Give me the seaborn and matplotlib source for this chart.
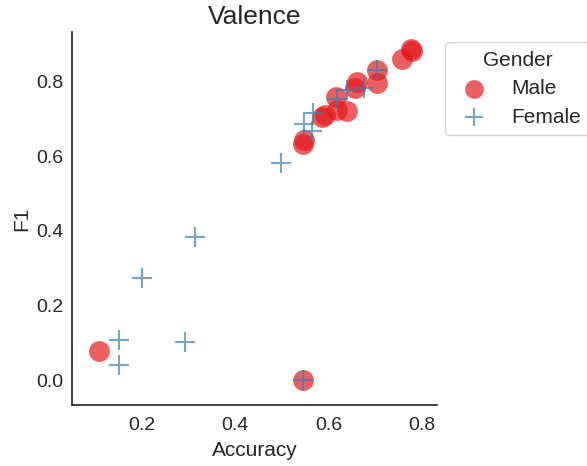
import matplotlib
matplotlib.use("Agg")
import matplotlib.pyplot as plt
import seaborn as sns
import pandas as pd

# Data
male_acc = [0.108, 0.545, 0.545, 0.547, 0.592, 0.586, 0.618, 0.639, 0.616,
            0.657, 0.661, 0.704, 0.704, 0.757, 0.779, 0.777]
male_f1 = [0.078, 0.000, 0.633, 0.645, 0.711, 0.706, 0.725, 0.722, 0.760,
           0.784, 0.800, 0.797, 0.832, 0.862, 0.883, 0.889]
female_acc = [0.151, 0.151, 0.200, 0.314, 0.292, 0.498, 0.547, 0.564, 0.567,
              0.618, 0.676, 0.639, 0.704, 0.545]
female_f1 = [0.107, 0.040, 0.274, 0.384, 0.102, 0.583, 0.687, 0.668, 0.717,
             0.754, 0.784, 0.778, 0.832, 0.000]
x_ticks = [0.2, 0.4, 0.6, 0.8]
y_ticks = [0.0, 0.2, 0.4, 0.6, 0.8]

sns.set_theme(style="white")
plt.rcParams["font.family"] = ["Liberation Sans", "DejaVu Sans"]

male = pd.DataFrame({"Accuracy": male_acc, "F1": male_f1})
female = pd.DataFrame({"Accuracy": female_acc, "F1": female_f1})

fig = plt.figure(figsize=(5.87, 4.66), dpi=100)
ax = fig.add_axes([72 / 587, 1 - 405 / 466, (437 - 72) / 587, (405 - 32) / 466])

sns.scatterplot(data=male, x="Accuracy", y="F1", color="#e41a1c", alpha=0.7,
                s=225, marker="o", linewidth=0, label="Male", ax=ax)
sns.scatterplot(data=female, x="Accuracy", y="F1", color="#377eb8", alpha=0.7,
                s=190, marker="+", linewidth=1.5, label="Female", ax=ax)

ax.set_xlim(0.05, 0.832)
ax.set_ylim(-0.067, 0.934)
ax.set_xticks(x_ticks)
ax.set_yticks(y_ticks)
ax.set_xticklabels([f"{v:.1f}" for v in x_ticks])
ax.set_yticklabels([f"{v:.1f}" for v in y_ticks])
ax.tick_params(axis="x", labelsize=14, colors="#262626", length=0, pad=9)
ax.tick_params(axis="y", labelsize=14, colors="#262626", length=0, pad=6)
ax.set_xlabel("Accuracy", fontsize=15, color="#262626", labelpad=5)
ax.set_ylabel("F1", fontsize=15, color="#262626", labelpad=4)
ax.set_title("Valence", fontsize=19, color="#262626", pad=6)
sns.despine(ax=ax)

leg = ax.legend(title="Gender", loc="upper left", bbox_to_anchor=(1.022, 0.972),
                fontsize=15, title_fontsize=15, frameon=True, borderaxespad=0,
                markerscale=0.9, labelspacing=0.45)
leg.get_frame().set_edgecolor("#cccccc")

fig.savefig("out.png", dpi=100)
